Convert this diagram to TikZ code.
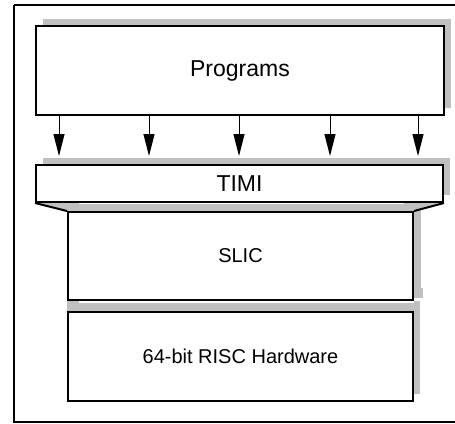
\documentclass[tikz,border=0pt]{standalone}
\usepackage{fontspec}
\setmainfont{Liberation Sans}
\usetikzlibrary{arrows.meta,positioning,calc,shadows,backgrounds}
\definecolor{shadowgray}{RGB}{192,192,192}
\tikzset{>={Triangle[width=11pt,length=22pt]}}
\tikzset{
  layerbox/.style={draw,fill=white,line width=2pt,inner sep=0pt},
  shadowbox/.style={layerbox,
    drop shadow={shadow xshift=7pt,shadow yshift=7pt,fill=shadowgray,opacity=1}},
  bigtext/.style={font=\fontsize{23}{27}\selectfont},
  smalltext/.style={font=\fontsize{20}{24}\selectfont}
}
\def\framew{1.4pt}
\begin{document}
\begin{tikzpicture}[x=1pt,y=-1pt]
  \useasboundingbox (0,0) rectangle (455,423);
  \draw[line width=\framew] (14,5) -- (460,5) (14,5) -- (14,422) -- (460,422);

  \node[shadowbox,bigtext,minimum width=408pt,minimum height=89pt] at (240,70.5) (prog) {Programs};
  \node[shadowbox,bigtext,minimum width=407pt,minimum height=37pt] at (239.5,183.5) (timi) {TIMI};
  \node[layerbox,smalltext,minimum width=345pt,minimum height=88pt] at (240.5,256) (slic) {SLIC};
  \node[layerbox,smalltext,minimum width=345pt,minimum height=89pt] at (240.5,356.5) (hw) {64-bit RISC Hardware};

  %% calls from the programs down to the interface
  \foreach \x in {59,149,239,330,418}
    \draw[->,line width=1pt,shorten >=8pt] (\x,0 |- prog.south) -- (\x,0 |- timi.north);

  \begin{scope}[on background layer]
    %% gap under TIMI
    \fill[shadowgray] (timi.south west) -- (timi.south east) -- (slic.north east) -- (slic.north west) -- cycle;
    \fill[white] ($(timi.south west)+(44,0)$) rectangle ($(timi.south east)+(-40,3)$);
    %% shadows of the lower boxes
    \fill[shadowgray] ($(slic.north west)+(7,-7)$) rectangle ($(slic.south east)+(7,-7)$);
    \fill[shadowgray] ($(slic.south east)+(0,-13)$) rectangle ($(slic.south east)+(9,-3)$);
    \fill[shadowgray] (slic.south west) rectangle ($(hw.north east)+(6,0)$);
    \fill[white] ($(slic.south west)+(12,0)$) rectangle ($(slic.south east)+(0,3)$);
    \fill[shadowgray] ($(hw.north west)+(6,-8)$) rectangle ($(hw.south east)+(6,-8)$);
  \end{scope}

  \draw[line width=2pt] (timi.south west) -- (slic.north west);
  \draw[line width=2pt] (timi.south east) -- (slic.north east);
\end{tikzpicture}
\end{document}
